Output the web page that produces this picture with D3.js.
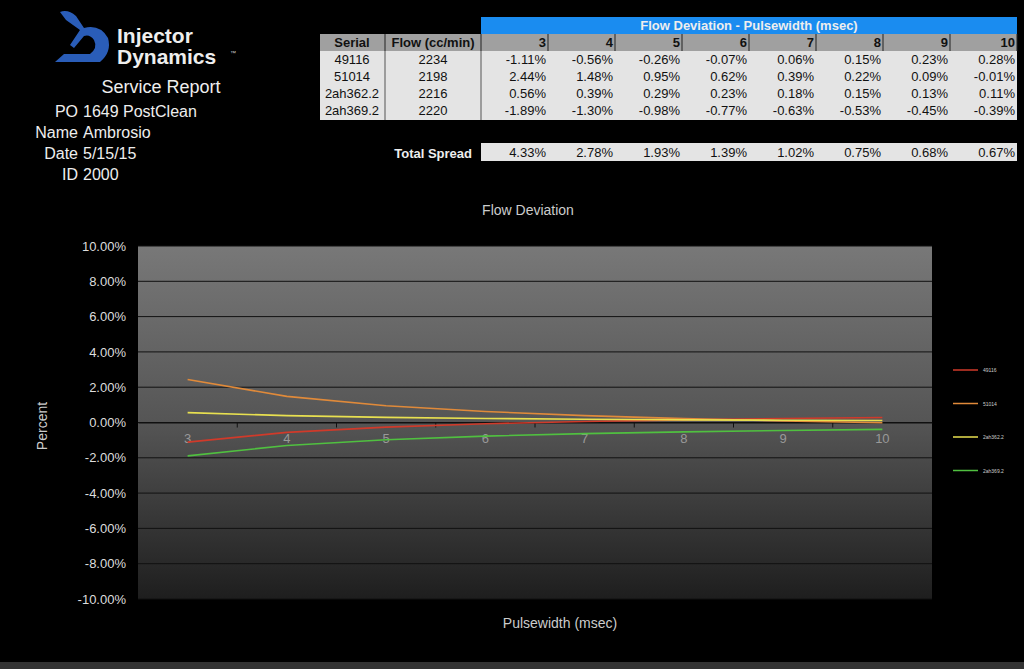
<!DOCTYPE html><html><head><meta charset="utf-8"><script src="https://cdn.jsdelivr.net/npm/d3@7"></script>
<style>body{margin:0;background:#000;}svg{display:block;font-family:Arial,"Liberation Sans",sans-serif;}.nar{font-family:"Liberation Sans Narrow","Arial Narrow",sans-serif;}</style></head><body><svg id="c" width="1024" height="669"></svg><script>
const pulse=[3,4,5,6,7,8,9,10];
const serials=["49116","51014","2ah362.2","2ah369.2"];
const flows=[2234,2198,2216,2220];
const s49116=[-1.11,-0.56,-0.26,-0.07,0.06,0.15,0.23,0.28];
const s51014=[2.44,1.48,0.95,0.62,0.39,0.22,0.09,-0.01];
const s362=[0.56,0.39,0.29,0.23,0.18,0.15,0.13,0.11];
const s369=[-1.89,-1.30,-0.98,-0.77,-0.63,-0.53,-0.45,-0.39];
const spread=[4.33,2.78,1.93,1.39,1.02,0.75,0.68,0.67];
const yTicks=[10,8,6,4,2,0,-2,-4,-6,-8,-10];
const series=[s49116,s51014,s362,s369];
const colors=["#d03a2a","#e08a3a","#e8e050","#50c040"];
const svg=d3.select("#c");
svg.append("rect").attr("width",1024).attr("height",669).attr("fill","#000");
svg.append("rect").attr("y",662).attr("width",1024).attr("height",7).attr("fill","#333");
// logo
const lg=svg.append("g");
lg.append("path").attr("d","M60,12 Q68,9 76,16 L84,28 Q100,24 108,38 Q112,52 100,62 L55,62 L64,54 L90,54 Q98,48 94,40 Q90,34 84,36 L74,48 L70,45 L80,30 L66,20 Z").attr("fill","#2a5db8");
lg.append("text").attr("x",117).attr("y",43).attr("fill","#eee").attr("font-size",21).attr("font-weight","bold").text("Injector");
lg.append("text").attr("x",117).attr("y",64).attr("fill","#eee").attr("font-size",21).attr("font-weight","bold").text("Dynamics");
lg.append("text").attr("x",230).attr("y",55).attr("fill","#ccc").attr("font-size",6).text("™");
svg.append("text").attr("x",161).attr("y",93).attr("text-anchor","middle").attr("fill","#eee").attr("font-size",18).text("Service Report");
[["PO","1649 PostClean"],["Name","Ambrosio"],["Date","5/15/15"],["ID","2000"]].forEach((r,i)=>{
 svg.append("text").attr("x",78).attr("y",117+i*21).attr("text-anchor","end").attr("fill","#eee").attr("font-size",16).text(r[0]);
 svg.append("text").attr("x",83).attr("y",117+i*21).attr("fill","#eee").attr("font-size",16).text(r[1]);
});
// table
const t=svg.append("g").attr("font-size",13).attr("class","nar");
t.append("rect").attr("x",481).attr("y",17).attr("width",536).attr("height",17).attr("fill","#1a8cf0");
t.append("text").attr("x",749).attr("y",30).attr("text-anchor","middle").attr("fill","#eee").attr("font-weight","bold").text("Flow Deviation - Pulsewidth (msec)");
const colX=d3.scaleBand().domain(pulse).range([481,1017]);
t.append("rect").attr("x",320).attr("y",34).attr("width",697).attr("height",17).attr("fill","#a0a0a0");
t.append("rect").attr("x",320).attr("y",51).attr("width",697).attr("height",69).attr("fill","#e4e4e4");
t.append("rect").attr("x",481).attr("y",143).attr("width",536).attr("height",18).attr("fill","#e4e4e4");
[385,481].concat(pulse.map(p=>colX(p)+colX.bandwidth())).forEach(x=>t.append("line").attr("x1",x).attr("x2",x).attr("y1",34).attr("y2",51).attr("stroke","#222"));
[385,481].forEach(x=>t.append("line").attr("x1",x).attr("x2",x).attr("y1",51).attr("y2",120).attr("stroke","#555"));
t.append("text").attr("x",352).attr("y",47).attr("text-anchor","middle").attr("font-weight","bold").attr("fill","#111").text("Serial");
t.append("text").attr("x",433).attr("y",47).attr("text-anchor","middle").attr("font-weight","bold").attr("fill","#111").text("Flow (cc/min)");
pulse.forEach(p=>t.append("text").attr("x",colX(p)+colX.bandwidth()-2).attr("y",47).attr("text-anchor","end").attr("font-weight","bold").attr("fill","#111").text(p));
serials.forEach((s,i)=>{
 const y=64+i*17;
 t.append("text").attr("x",352).attr("y",y).attr("text-anchor","middle").attr("fill","#111").text(s);
 t.append("text").attr("x",433).attr("y",y).attr("text-anchor","middle").attr("fill","#111").text(flows[i]);
 series[i].forEach((v,j)=>t.append("text").attr("x",colX(pulse[j])+colX.bandwidth()-2).attr("y",y).attr("text-anchor","end").attr("fill","#111").text(v.toFixed(2)+"%"));
});
t.append("text").attr("x",472).attr("y",158).attr("text-anchor","end").attr("font-weight","bold").attr("fill","#eee").text("Total Spread");
spread.forEach((v,j)=>t.append("text").attr("x",colX(pulse[j])+colX.bandwidth()-2).attr("y",157).attr("text-anchor","end").attr("fill","#111").text(v.toFixed(2)+"%"));
// chart
const L=138,R=932,T=246,B=599;
const x=d3.scaleBand().domain(pulse).range([L,R]);
const y=d3.scaleLinear().domain([-10,10]).range([B,T]);
const defs=svg.append("defs");
const gr=defs.append("linearGradient").attr("id","bg").attr("x1",0).attr("y1",0).attr("x2",0).attr("y2",1);
gr.append("stop").attr("offset","0").attr("stop-color","#787878");
gr.append("stop").attr("offset","0.5").attr("stop-color","#555");
gr.append("stop").attr("offset","1").attr("stop-color","#1e1e1e");
svg.append("rect").attr("x",L).attr("y",T).attr("width",R-L).attr("height",B-T).attr("fill","url(#bg)");
yTicks.forEach(v=>svg.append("line").attr("x1",L).attr("x2",R).attr("y1",y(v)).attr("y2",y(v)).attr("stroke","#111").attr("stroke-width",1));
const ya=svg.append("g").attr("transform",`translate(${L},0)`).call(d3.axisLeft(y).tickValues(yTicks).tickSize(0).tickPadding(12).tickFormat(d=>d.toFixed(2)+"%"));
ya.select(".domain").remove();
ya.selectAll("text").attr("fill","#ddd").attr("font-size",13).attr("font-family","Arial,'Liberation Sans',sans-serif");
const xa=svg.append("g").attr("transform",`translate(0,${y(0)})`).call(d3.axisBottom(x).tickSize(0).tickPadding(11));
xa.select(".domain").attr("stroke","#111");
xa.selectAll("text").attr("fill","#999").attr("font-size",13).attr("font-family","Arial,'Liberation Sans',sans-serif");
pulse.slice(1).forEach(p=>svg.append("line").attr("x1",x(p)).attr("x2",x(p)).attr("y1",y(0)).attr("y2",y(0)+5).attr("stroke","#111"));
const line=d3.line().x((d,i)=>x(pulse[i])+x.bandwidth()/2).y(d=>y(d));
series.forEach((s,i)=>svg.append("path").datum(s).attr("d",line).attr("fill","none").attr("stroke",colors[i]).attr("stroke-width",1.6));
svg.append("text").attr("x",528).attr("y",215).attr("text-anchor","middle").attr("fill","#ccc").attr("font-size",14).text("Flow Deviation");
svg.append("text").attr("x",560).attr("y",628).attr("text-anchor","middle").attr("fill","#ccc").attr("font-size",14).text("Pulsewidth (msec)");
svg.append("text").attr("transform","translate(47,426) rotate(-90)").attr("text-anchor","middle").attr("fill","#ccc").attr("font-size",14).text("Percent");
serials.forEach((s,i)=>{const yy=370+i*33.5;
 svg.append("line").attr("x1",953).attr("x2",978).attr("y1",yy).attr("y2",yy).attr("stroke",colors[i]).attr("stroke-width",1.5);
 svg.append("text").attr("x",983).attr("y",yy+2).attr("fill","#ccc").attr("font-size",5).text(s);});
</script></body></html>
